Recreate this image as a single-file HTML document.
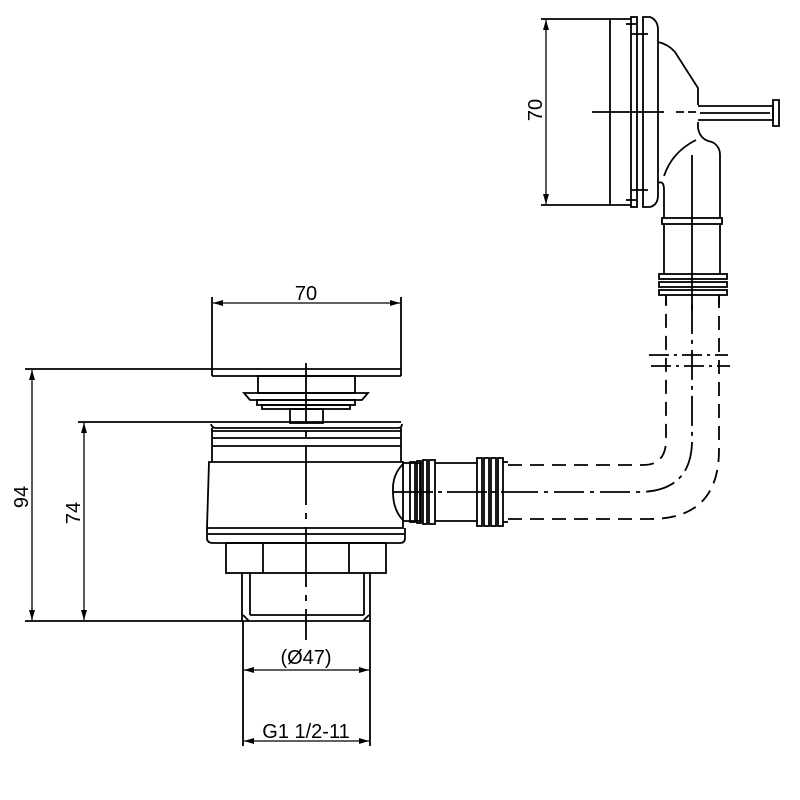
<!DOCTYPE html>
<html><head><style>body{margin:0;background:#fff}svg{display:block}text{font-family:"Liberation Sans",sans-serif;fill:#000}</style></head><body>
<svg width="800" height="800" viewBox="0 0 800 800" xmlns="http://www.w3.org/2000/svg">
<defs><marker id="a" viewBox="0 0 10 6" refX="10" refY="3" markerWidth="11" markerHeight="6" orient="auto-start-reverse" markerUnits="userSpaceOnUse"><path d="M0,0L10,3L0,6z" fill="#000"/></marker></defs>
<g fill="none" stroke="#000" stroke-width="1.8">
<line x1="212" y1="297" x2="212" y2="376"/><line x1="401" y1="297" x2="401" y2="376"/>
<line x1="213" y1="303" x2="400" y2="303" stroke-width="1.3" marker-start="url(#a)" marker-end="url(#a)"/>
<line x1="25" y1="369" x2="401" y2="369"/><line x1="212" y1="376" x2="401" y2="376"/>
<rect x="258" y="376" width="97" height="17"/>
<path d="M244,393H368L362,400H250Z"/>
<rect x="257" y="400" width="98" height="5"/><rect x="262" y="405" width="88" height="4"/>
<rect x="290" y="409" width="33" height="14"/>
<line x1="78" y1="422" x2="401" y2="422"/>
<path d="M211,424Q212,428 216,428H398Q402,428 402,424"/>
<line x1="212" y1="431" x2="401" y2="431"/><line x1="212" y1="438" x2="401" y2="438"/><line x1="212" y1="446" x2="401" y2="446"/>
<line x1="212" y1="428" x2="212" y2="462"/><line x1="401" y1="428" x2="401" y2="462"/>
<path d="M209,462H403V528H207Z"/>
<path d="M207,528V538Q207,543 213,543H400Q405,543 405,538V528"/>
<line x1="208" y1="534" x2="404" y2="534"/>
<rect x="226" y="543" width="160" height="30"/><line x1="263" y1="543" x2="263" y2="573"/><line x1="349" y1="543" x2="349" y2="573"/>
<path d="M242,573V621H370V573"/><line x1="250" y1="573" x2="250" y2="615"/><line x1="364" y1="573" x2="364" y2="615"/>
<path d="M243,615L249,621M369,615L363,621M250,615H364"/>
<line x1="25" y1="621" x2="243" y2="621"/>
<line x1="32" y1="370" x2="32" y2="620" stroke-width="1.3" marker-start="url(#a)" marker-end="url(#a)"/>
<line x1="84" y1="423" x2="84" y2="620" stroke-width="1.3" marker-start="url(#a)" marker-end="url(#a)"/>
<line x1="243" y1="621" x2="243" y2="746"/><line x1="370" y1="621" x2="370" y2="746"/>
<line x1="244" y1="670" x2="369" y2="670" stroke-width="1.3" marker-start="url(#a)" marker-end="url(#a)"/>
<line x1="244" y1="741" x2="369" y2="741" stroke-width="1.3" marker-start="url(#a)" marker-end="url(#a)"/>
<line x1="306" y1="363" x2="306" y2="640" stroke-dasharray="60,8,6,8"/>
<path d="M403,464Q392,475 393,492Q393,510 403,520"/>
<path d="M403,463H420V521H403"/>
<rect x="410" y="462" width="5" height="60"/><rect x="417" y="461" width="4" height="62"/><rect x="423" y="460" width="4" height="64"/><rect x="429" y="460" width="6" height="64"/>
<path d="M435,463H477M435,521H477"/>
<rect x="477" y="458" width="5" height="68"/><rect x="484" y="458" width="5" height="68"/><rect x="491" y="458" width="5" height="68"/><rect x="498" y="458" width="5" height="68"/>
<line x1="503" y1="462" x2="508" y2="462"/><line x1="503" y1="522" x2="508" y2="522"/>
<line x1="393" y1="492" x2="508" y2="492" stroke-dasharray="40,5,4,5"/>
<path d="M508,465H643Q666,465 666,440V297" stroke-dasharray="14,8"/>
<path d="M508,492H638Q692,492 692,440V297" stroke-dasharray="30,6,4,6"/>
<path d="M508,519H650Q719,519 719,450V297" stroke-dasharray="14,8"/>
<line x1="649" y1="355" x2="728" y2="355" stroke-dasharray="20,5,3,5"/>
<line x1="651" y1="366" x2="730" y2="366" stroke-dasharray="20,5,3,5"/>
<line x1="541" y1="19" x2="631" y2="19"/><line x1="541" y1="205" x2="631" y2="205"/>
<line x1="546" y1="20" x2="546" y2="204" stroke-width="1.3" marker-start="url(#a)" marker-end="url(#a)"/>
<line x1="610" y1="19" x2="610" y2="205"/>
<rect x="631" y="17" width="6" height="190"/>
<path d="M643,17H650Q658,20 658,30V195Q658,205 650,207H643Z"/>
<line x1="626" y1="24" x2="636" y2="24"/><line x1="626" y1="200" x2="636" y2="200"/>
<line x1="631" y1="34" x2="648" y2="34"/><line x1="631" y1="190" x2="648" y2="190"/>
<path d="M658,42Q668,44 675,52L698,88V105"/>
<path d="M698,122V128Q700,140 712,142Q720,146 720,155V218"/>
<path d="M658,183Q664,180 664,190V218"/>
<path d="M664,176Q672,152 696,140"/>
<path d="M698,106H773V120H698"/><path d="M773,100L779,100L779,126L773,126Z"/><line x1="700" y1="113" x2="770" y2="113"/>
<line x1="592" y1="112" x2="664" y2="112"/><line x1="676" y1="112" x2="696" y2="112" stroke-dasharray="8,4"/>
<line x1="692" y1="155" x2="692" y2="310"/>
<rect x="662" y="218" width="60" height="6"/>
<path d="M664,224V274M720,224V274"/>
<rect x="659" y="274" width="68" height="5"/><rect x="659" y="282" width="68" height="5"/><rect x="659" y="290" width="68" height="5"/>
<path d="M666,295V305M719,295V305"/>
</g>
<g font-size="20">
<text x="306" y="300" text-anchor="middle">70</text>
<text x="306" y="664" text-anchor="middle">(Ø47)</text>
<text x="306" y="738" text-anchor="middle">G1 1/2-11</text>
<text transform="translate(542,110) rotate(-90)" text-anchor="middle">70</text>
<text transform="translate(28,497) rotate(-90)" text-anchor="middle">94</text>
<text transform="translate(80,513) rotate(-90)" text-anchor="middle">74</text>
</g>
</svg>
</body></html>
